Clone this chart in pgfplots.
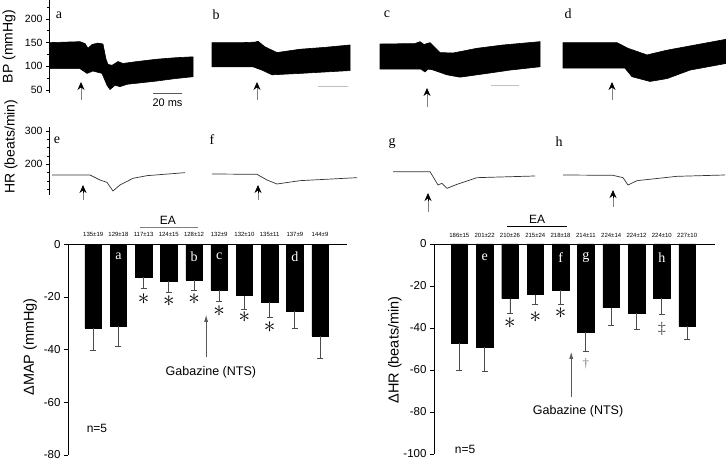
\documentclass[border=0pt]{standalone}
\usepackage{pgfplots}
\pgfplotsset{compat=1.18}
\usepackage{fontspec}
\setmainfont{Liberation Sans}
\newfontfamily\seriffont{Liberation Serif}
\usetikzlibrary{arrows.meta}
\pgfplotsset{
  trace/.style={scale only axis, width=677pt, xmin=49, xmax=726, axis x line=none,
    axis y line*=left, axis line style={-, line width=0.8pt}, tick align=outside,
    major tick length=3pt, minor tick length=2pt, tick style={line width=0.7pt, black},
    yticklabel style={font=\fontsize{10.5}{10.5}\selectfont},
    /pgf/number format/assume math mode=true, clip=false},
  barax/.style={scale only axis, xmin=0, axis x line*=top, axis y line*=left,
    axis line style={-, line width=0.8pt}, xtick=\empty, tick align=outside,
    major tick length=4pt, tick style={line width=0.7pt, black},
    yticklabel style={font=\fontsize{11.5}{11.5}\selectfont},
    /pgf/number format/assume math mode=true, clip=false,
    ylabel style={font=\fontsize{14.5}{14.5}\selectfont, anchor=center}},
  bars/.style={ybar, bar width=16.5pt, fill=black, draw=black,
    error bars/.cd, y dir=minus, y explicit,
    error bar style={line width=0.8pt, color=gray!60!black},
    error mark options={rotate=90, mark size=3pt, line width=0.8pt, color=gray!60!black}},
}
\tikzset{
  vlab/.style={font=\fontsize{6}{6}\selectfont},
  star/.style={font=\Large, scale=1.6},
  inlet/.style={font=\seriffont\fontsize{14}{14}\selectfont, text=white},
  plet/.style={font=\seriffont\fontsize{14}{14}\selectfont},
  shaft/.style={gray, line width=0.8pt},
  head/.style={-{Stealth[length=8pt,width=7pt]}, line width=0.8pt},
}
\begin{document}
\begin{tikzpicture}[x=1pt,y=1pt]
\useasboundingbox (0,0) rectangle (726,462);

% ---------------- BP traces ----------------
\begin{axis}[trace, at={(49pt,368.7pt)}, anchor=south west, height=93.3pt,
  ymin=43, ymax=240, ytick={50,100,150,200}, minor ytick={75,125,175,225},
  ylabel={BP (mmHg)}, ylabel style={font=\fontsize{14}{14}\selectfont, at={(axis description cs:-0.059,0.5)}, anchor=center}]
\addplot[fill=black, draw=black, line width=0.6pt] coordinates {
 (50,150) (80,152) (85,148) (88,138) (92,146) (98,149) (103,147) (106,115) (108,104)
 (112,102) (118,110) (123,106) (130,108) (137,110) (157,115) (175,118) (193,120)
 (193,78) (175,74) (157,69) (140,65) (127,62) (120,57) (115,60) (110,51) (107,60)
 (102,85) (93,90) (87,85) (80,95) (50,95)} -- cycle;
\addplot[fill=black, draw=black, line width=0.6pt] coordinates {
 (212,150) (243,150) (255,151) (258,153) (262,146) (265,141) (277,129) (300,136)
 (325,140) (350,145)
 (350,91) (325,88) (300,85) (272,82) (262,92) (258,95) (253,99) (212,99)} -- cycle;
\addplot[fill=black, draw=black, line width=0.6pt] coordinates {
 (380,147) (415,148) (420,152) (424,146) (430,150) (440,129) (453,128) (477,138)
 (503,145) (540,152)
 (540,99) (510,92) (487,85) (460,77) (447,82) (432,93) (428,94) (425,88) (421,94) (380,94)} -- cycle;
\addplot[fill=black, draw=black, line width=0.6pt] coordinates {
 (563,150) (617,150) (628,138) (647,124) (667,134) (690,143) (726,157)
 (726,106) (690,92) (667,74) (650,68) (632,78) (625,96) (563,96)} -- cycle;
% scale bars
\draw[gray!70!black, line width=0.8pt] (axis cs:153,43.6) -- (axis cs:182,43.6);
\node[font=\fontsize{11}{11}\selectfont] at (axis cs:167.5,22.5) {20 ms};
\draw[gray!50, line width=0.8pt] (axis cs:318,58.4) -- (axis cs:348,58.4);
\draw[gray!50, line width=0.8pt] (axis cs:491,59.9) -- (axis cs:519,59.9);
% arrows
\draw[shaft] (axis cs:81,28.9) -- (axis cs:81,56.9);
\draw[head] (axis cs:81,54.9) -- (axis cs:81,66.9);
\draw[shaft] (axis cs:257,28.9) -- (axis cs:257,56.9);
\draw[head] (axis cs:257,54.9) -- (axis cs:257,66.9);
\draw[shaft] (axis cs:427,14.1) -- (axis cs:427,44.2);
\draw[head] (axis cs:427,42.2) -- (axis cs:427,54.2);
\draw[shaft] (axis cs:612,28.9) -- (axis cs:612,56.9);
\draw[head] (axis cs:612,54.9) -- (axis cs:612,66.9);
\node[plet] at (axis cs:59,208) {a};
\node[plet] at (axis cs:216,208) {b};
\node[plet] at (axis cs:387,210) {c};
\node[plet] at (axis cs:568,210) {d};
\end{axis}

% ---------------- HR traces ----------------
\begin{axis}[trace, at={(49pt,267pt)}, anchor=south west, height=68pt,
  ymin=108, ymax=312, ytick={200,300}, minor ytick={125,150,175,225,250,275},
  ylabel={HR (beats/min)}, ylabel style={font=\fontsize{14}{14}\selectfont, at={(axis description cs:-0.056,0.71)}, anchor=center}]
\addplot[gray!40!black, line width=0.7pt] coordinates {
 (52,168) (90,168) (100,153) (107,146) (113,120) (120,138) (133,158) (147,166) (185,175)};
\addplot[gray!40!black, line width=0.7pt] coordinates {
 (212,171) (257,170) (267,153) (277,141) (300,151) (357,160)};
\addplot[gray!40!black, line width=0.7pt] coordinates {
 (393,178) (430,178) (438,138) (442,143) (447,128) (457,140) (477,160) (535,165)};
\addplot[gray!40!black, line width=0.7pt] coordinates {
 (563,168) (613,167) (623,160) (628,138) (637,151) (677,164) (725,168)};
\draw[shaft] (axis cs:83,93) -- (axis cs:83,118);
\draw[head] (axis cs:83,113) -- (axis cs:83,138);
\draw[shaft] (axis cs:258,93) -- (axis cs:258,118);
\draw[head] (axis cs:258,113) -- (axis cs:258,138);
\draw[shaft] (axis cs:428,57) -- (axis cs:428,94);
\draw[head] (axis cs:428,89) -- (axis cs:428,114);
\draw[shaft] (axis cs:613,72) -- (axis cs:613,103);
\draw[head] (axis cs:613,98) -- (axis cs:613,123);
\node[plet] at (axis cs:57,273) {e};
\node[plet] at (axis cs:212,273) {f};
\node[plet] at (axis cs:392,264) {g};
\node[plet] at (axis cs:559,267) {h};
\end{axis}

% ---------------- MAP bars ----------------
\begin{axis}[barax, at={(68pt,7pt)}, anchor=south west, width=279pt, height=210.7pt,
  xmax=11.07, ymin=-80, ymax=0, ytick={0,-20,-40,-60,-80},
  ylabel={ΔMAP (mmHg)}, ylabel style={at={(axis description cs:-0.136,0.513)}}]
\addplot[bars] coordinates {
 (1,-31.8) +- (0,8.6)  (2,-31.0) +- (0,7.9)  (3,-12.4) +- (0,4.5)  (4,-14.0) +- (0,4.3)
 (5,-13.6) +- (0,4.0)  (6,-17.3) +- (0,4.4)  (7,-19.5) +- (0,5.2)  (8,-21.9) +- (0,6.0)
 (9,-25.5) +- (0,6.6)  (10,-34.8) +- (0,8.5)};
\node[vlab] at (axis cs:1,3.9) {135±19};
\node[vlab] at (axis cs:2,3.9) {129±18};
\node[vlab] at (axis cs:3,3.9) {117±13};
\node[vlab] at (axis cs:4,3.9) {124±15};
\node[vlab] at (axis cs:5,3.9) {128±12};
\node[vlab] at (axis cs:6,3.9) {132±9};
\node[vlab] at (axis cs:7,3.9) {132±10};
\node[vlab] at (axis cs:8,3.9) {135±11};
\node[vlab] at (axis cs:9,3.9) {137±9};
\node[vlab] at (axis cs:10,3.9) {144±9};
\draw[gray, line width=0.8pt] (axis cs:2.86,6.6) -- (axis cs:5.16,6.6);
\node[font=\fontsize{12}{12}\selectfont] at (axis cs:3.96,9.2) {EA};
\node[star] at (axis cs:3,-20.8) {$\ast$};
\node[star] at (axis cs:4,-21.4) {$\ast$};
\node[star] at (axis cs:5,-21.0) {$\ast$};
\node[star] at (axis cs:6,-25.3) {$\ast$};
\node[star] at (axis cs:7,-27.6) {$\ast$};
\node[star] at (axis cs:8,-31.4) {$\ast$};
\node[inlet] at (axis cs:2,-4.7) {a};
\node[inlet] at (axis cs:5,-4.7) {b};
\node[inlet] at (axis cs:6,-4.7) {c};
\node[inlet] at (axis cs:9,-4.7) {d};
\draw[-{Latex[length=7pt,width=4pt]}, gray!70!black, line width=0.7pt] (axis cs:5.48,-42.8) -- (axis cs:5.48,-26.8);
\node[font=\fontsize{12.5}{12.5}\selectfont] at (axis cs:5.67,-48.5) {Gabazine (NTS)};
\node[font=\fontsize{12}{12}\selectfont] at (axis cs:1.15,-70.1) {n=5};
\end{axis}

% ---------------- HR bars ----------------
\begin{axis}[barax, at={(434pt,8pt)}, anchor=south west, width=281pt, height=210pt,
  xmax=11.1, ymin=-100, ymax=0, ytick={0,-20,-40,-60,-80,-100},
  ylabel={ΔHR (beats/min)}, ylabel style={at={(axis description cs:-0.139,0.495)}}]
\addplot[bars] coordinates {
 (1,-47.1) +- (0,13.2)  (2,-49.0) +- (0,11.6)  (3,-26.0) +- (0,7.2)  (4,-24.1) +- (0,4.9)
 (5,-22.1) +- (0,6.5)  (6,-41.9) +- (0,9.2)  (7,-30.3) +- (0,8.6)  (8,-32.9) +- (0,7.6)
 (9,-25.9) +- (0,7.8)  (10,-39.2) +- (0,6.4)};
\node[vlab] at (axis cs:1,4.0) {186±15};
\node[vlab] at (axis cs:2,4.0) {201±22};
\node[vlab] at (axis cs:3,4.0) {210±26};
\node[vlab] at (axis cs:4,4.0) {215±24};
\node[vlab] at (axis cs:5,4.0) {218±18};
\node[vlab] at (axis cs:6,4.0) {214±11};
\node[vlab] at (axis cs:7,4.0) {224±14};
\node[vlab] at (axis cs:8,4.0) {224±12};
\node[vlab] at (axis cs:9,4.0) {224±10};
\node[vlab] at (axis cs:10,4.0) {227±10};
\draw[black, line width=0.8pt] (axis cs:2.89,8.6) -- (axis cs:5.26,8.6);
\node[font=\fontsize{12}{12}\selectfont] at (axis cs:4.07,11.6) {EA};
\node[star] at (axis cs:3,-37.8) {$\ast$};
\node[star] at (axis cs:4,-34.9) {$\ast$};
\node[star] at (axis cs:5,-33.0) {$\ast$};
\node[font=\seriffont\fontsize{13}{13}\selectfont, text=gray] at (axis cs:6,-57) {†};
\node[font=\seriffont\fontsize{16}{16}\selectfont, text=gray!60!black] at (axis cs:9,-40.5) {‡};
\node[inlet] at (axis cs:2,-6.3) {e};
\node[inlet] at (axis cs:5,-6.3) {f};
\node[inlet] at (axis cs:6,-6.3) {g};
\node[inlet] at (axis cs:9,-6.3) {h};
\draw[-{Latex[length=7pt,width=4pt]}, gray!70!black, line width=0.7pt] (axis cs:5.42,-72.9) -- (axis cs:5.42,-51.4);
\node[font=\fontsize{12.5}{12.5}\selectfont] at (axis cs:5.69,-79.5) {Gabazine (NTS)};
\node[font=\fontsize{12}{12}\selectfont] at (axis cs:1.23,-97.6) {n=5};
\end{axis}
\end{tikzpicture}
\end{document}
